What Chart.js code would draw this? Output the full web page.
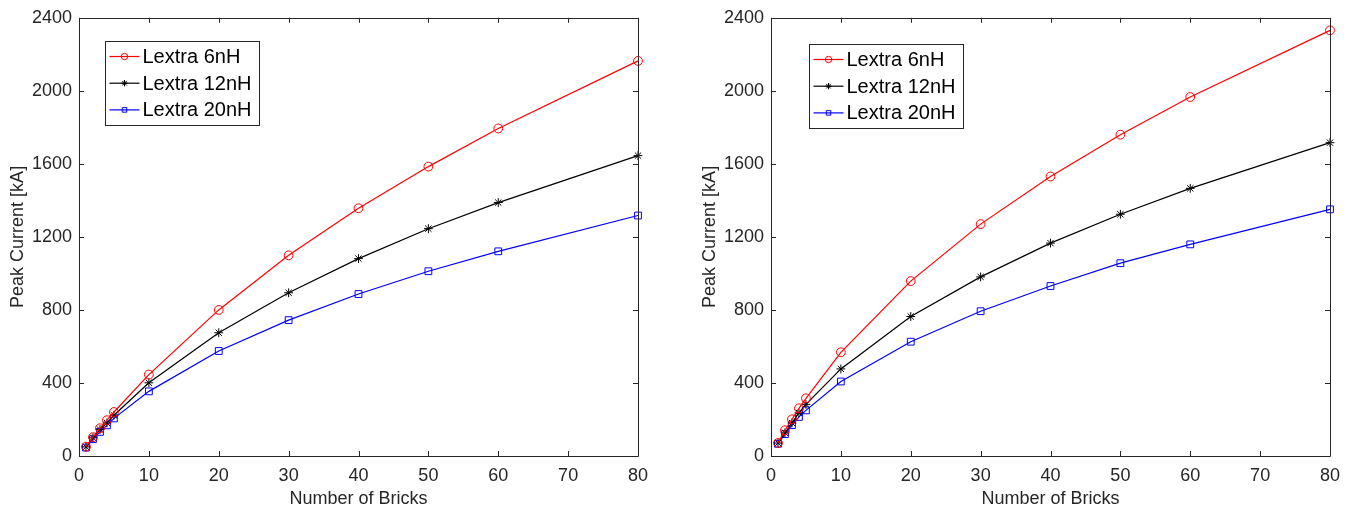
<!DOCTYPE html>
<html>
<head>
<meta charset="utf-8">
<script src="https://cdn.jsdelivr.net/npm/chart.js@4.4.1/dist/chart.umd.min.js"></script>
<style>
	html, body { margin: 0; padding: 0; background: #fff; overflow: hidden; }
	.box { position: absolute; top: 0; height: 510px; }
	#wrapLeft { left: 0; width: 682px; }
	#wrapRight { left: 692px; width: 672px; }
</style>
</head>
<body>
<div class="box" id="wrapLeft"><canvas id="chartLeft"></canvas></div>
<div class="box" id="wrapRight"><canvas id="chartRight"></canvas></div>
<script>
// number of bricks (x values)
const bricks = [1, 2, 3, 4, 5, 10, 20, 30, 40, 50, 60, 80];

// left panel, peak current in kA
const left6nH  = [51, 103, 152, 196, 241, 446, 800, 1099, 1357, 1585, 1794, 2164];
const left12nH = [50, 100, 145, 181, 223, 401, 675, 894, 1081, 1245, 1388, 1645];
const left20nH = [46, 92, 132, 168, 206, 354, 575, 744, 887, 1012, 1121, 1317];

// right panel, peak current in kA
const right6nH  = [71, 141, 201, 261, 316, 568, 958, 1270, 1531, 1760, 1966, 2331];
const right12nH = [71, 127, 181, 236, 283, 477, 764, 981, 1166, 1324, 1466, 1716];
const right20nH = [67, 120, 169, 214, 250, 408, 626, 793, 931, 1056, 1159, 1351];

const seriesLabels = ["Lextra 6nH", "Lextra 12nH", "Lextra 20nH"];
const seriesColors = ["#ff0000", "#000000", "#0000ff"];
const seriesMarkers = ["circle", "star", "rect"];

const xTicks = [0, 10, 20, 30, 40, 50, 60, 70, 80];
const yTicks = [0, 400, 800, 1200, 1600, 2000, 2400];

const axisColor = "#262626";
const fontName = "'Liberation Sans', Arial, Helvetica, sans-serif";

function drawMarker(ctx, style, x, y, r) {
	ctx.beginPath();
	if (style === "circle") {
		ctx.arc(x, y, r, 0, Math.PI * 2);
	} else if (style === "rect") {
		let s = r * Math.SQRT1_2;
		ctx.rect(x - s, y - s, 2 * s, 2 * s);
	} else {
		for (let i = 0; i < 4; i++) {
			let a = i * Math.PI / 4;
			ctx.moveTo(x - Math.cos(a) * r, y - Math.sin(a) * r);
			ctx.lineTo(x + Math.cos(a) * r, y + Math.sin(a) * r);
		}
	}
	ctx.stroke();
}

// matlab style box with inward ticks, plus legend inside the axes
const matlabBox = {
	id: "matlabBox",
	afterDraw(chart, args, opts) {
		const ctx = chart.ctx;
		const a = chart.chartArea;
		const xs = chart.scales.x, ys = chart.scales.y;
		const tl = 5;
		ctx.save();
		ctx.strokeStyle = axisColor;
		ctx.lineWidth = 1;
		ctx.beginPath();
		ctx.rect(Math.round(a.left) + 0.5, Math.round(a.top) + 0.5,
			Math.round(a.right - a.left), Math.round(a.bottom - a.top));
		ctx.stroke();
		ctx.beginPath();
		xs.ticks.forEach(t => {
			let px = Math.round(xs.getPixelForValue(t.value)) + 0.5;
			ctx.moveTo(px, a.bottom); ctx.lineTo(px, a.bottom - tl);
			ctx.moveTo(px, a.top); ctx.lineTo(px, a.top + tl);
		});
		ys.ticks.forEach(t => {
			let py = Math.round(ys.getPixelForValue(t.value)) + 0.5;
			ctx.moveTo(a.left, py); ctx.lineTo(a.left + tl, py);
			ctx.moveTo(a.right, py); ctx.lineTo(a.right - tl, py);
		});
		ctx.stroke();

		// legend
		const lx = Math.round(a.left + opts.dx) + 0.5;
		const ly = Math.round(a.top + opts.dy) + 0.5;
		const w = 154, h = 84;
		ctx.fillStyle = "#ffffff";
		ctx.fillRect(lx, ly, w, h);
		ctx.strokeStyle = axisColor;
		ctx.strokeRect(lx, ly, w, h);
		ctx.font = "20px " + fontName;
		ctx.textBaseline = "middle";
		ctx.textAlign = "left";
		chart.data.datasets.forEach((ds, i) => {
			let ry = ly + 15 + i * 26.7;
			ctx.strokeStyle = ds.borderColor;
			ctx.lineWidth = 1.2;
			ctx.beginPath();
			ctx.moveTo(lx + 4, ry); ctx.lineTo(lx + 34, ry);
			ctx.stroke();
			ctx.lineWidth = 1;
			drawMarker(ctx, ds.pointStyle, lx + 19, ry, 3.2);
			ctx.fillStyle = "#000000";
			ctx.fillText(ds.label, lx + 37, ry + 1);
		});
		ctx.restore();
	}
};

function makeChart(id, values, rightPad, legendDx, legendDy) {
	let datasets = [];
	for (let i = 0; i < values.length; i++) {
		datasets.push({
			label: seriesLabels[i],
			data: bricks.map((b, k) => ({ x: b, y: values[i][k] })),
			borderColor: seriesColors[i],
			backgroundColor: "transparent",
			borderWidth: 1.2,
			pointStyle: seriesMarkers[i],
			pointRadius: seriesMarkers[i] === "rect" ? 4.8 : 4.4,
			pointBorderWidth: 1,
			pointBorderColor: seriesColors[i],
			pointBackgroundColor: "transparent",
			tension: 0,
			clip: false
		});
	}

	new Chart(document.getElementById(id), {
		type: "line",
		data: { datasets: datasets },
		plugins: [matlabBox],
		options: {
			responsive: true,
			maintainAspectRatio: false,
			animation: false,
			layout: { padding: { left: 0, right: rightPad, top: 15, bottom: 0 } },
			plugins: {
				legend: { display: false },
				tooltip: { enabled: false },
				matlabBox: { dx: legendDx, dy: legendDy }
			},
			scales: {
				x: {
					type: "linear",
					min: 0, max: 80,
					grid: { display: false, drawTicks: false },
					border: { display: false },
					afterBuildTicks: s => { s.ticks = xTicks.map(v => ({ value: v })); },
					afterFit: s => { s.height = 54; },
					ticks: { color: axisColor, padding: 9, font: { family: fontName, size: 18 }, maxRotation: 0,
						callback: v => String(v) },
					title: { display: true, text: "Number of Bricks", color: axisColor,
						font: { family: fontName, size: 18 }, padding: { top: 0, bottom: 0 } }
				},
				y: {
					min: 0, max: 2400,
					grid: { display: false, drawTicks: false },
					border: { display: false },
					afterBuildTicks: s => { s.ticks = yTicks.map(v => ({ value: v })); },
					afterFit: s => { s.width = 79; },
					ticks: { color: axisColor, padding: 7, font: { family: fontName, size: 18 },
						callback: v => String(v) },
					title: { display: true, text: "Peak Current [kA]", color: axisColor,
						font: { family: fontName, size: 18 }, padding: { top: 7, bottom: 0 } }
				}
			}
		}
	});
}

makeChart("chartLeft", [left6nH, left12nH, left20nH], 44, 26, 23);
makeChart("chartRight", [right6nH, right12nH, right20nH], 34, 38, 26);
</script>
</body>
</html>
